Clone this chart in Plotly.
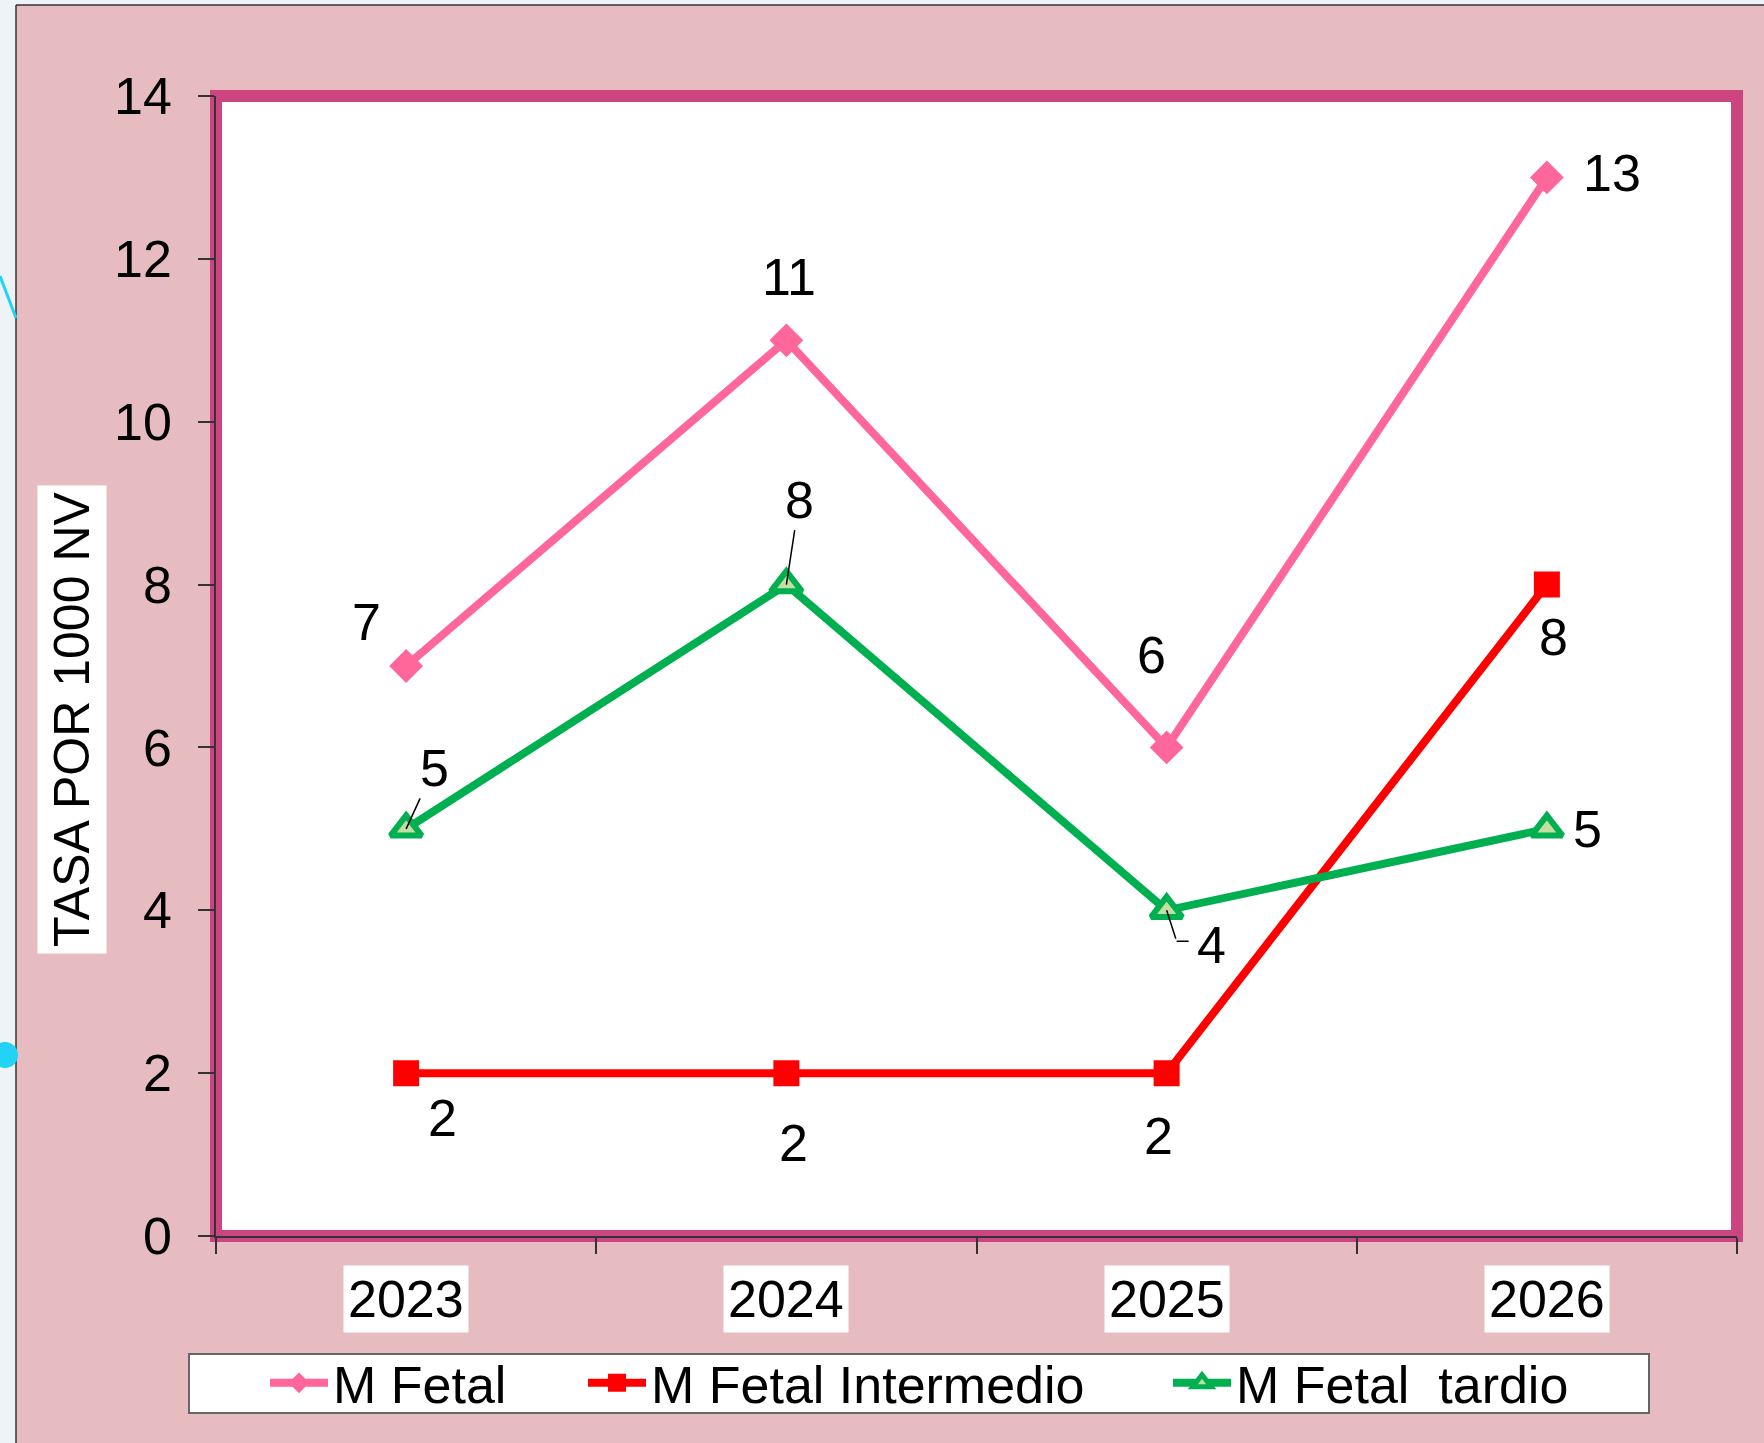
import plotly.graph_objects as go

# Data
years = ["2023", "2024", "2025", "2026"]
m_fetal = [7, 11, 6, 13]
m_fetal_intermedio = [2, 2, 2, 8]
m_fetal_tardio = [5, 8, 4, 5]
y_ticks = [0, 2, 4, 6, 8, 10, 12, 14]

series_names = ["M Fetal", "M Fetal Intermedio", "M Fetal\u00a0 tardio"]

# one slot per year on a linear x axis; ticks sit on the slot boundaries
pos = list(range(len(years)))
boundaries = [p - 0.5 for p in pos] + [pos[-1] + 0.5]

FONT = "Arial, Liberation Sans, sans-serif"
PINK_BG = "#e7bcc1"
FRAME = "#cc4580"

W, H = 1764, 1443
ML, MR, MT, MB = 216, 27, 96, 207
PW, PH = W - ML - MR, H - MT - MB


def px_x(px):
    return (px - ML) / PW


def px_y(py):
    return (H - MB - py) / PH


fig = go.Figure()

fig.add_trace(go.Scatter(
    x=pos, y=m_fetal, name=series_names[0], mode="lines+markers",
    line=dict(color="#ff6699", width=8),
    marker=dict(symbol="diamond", size=26, color="#ff6699"),
    legend="legend",
))
fig.add_trace(go.Scatter(
    x=pos, y=m_fetal_intermedio, name=series_names[1], mode="lines+markers",
    line=dict(color="#ff0000", width=8),
    marker=dict(symbol="square", size=24, color="#ff0000",
                line=dict(color="#ff0000", width=2)),
    legend="legend2",
))
fig.add_trace(go.Scatter(
    x=pos, y=m_fetal_tardio, name=series_names[2], mode="lines+markers",
    line=dict(color="#00b050", width=8),
    marker=dict(symbol="triangle-up", size=27, color="#c3dea0",
                line=dict(color="#00b050", width=6)),
    legend="legend3",
))

# Value labels: (x, y, xshift, yshift)
label_font = dict(family=FONT, size=52, color="black")
plain_labels = []
plain_labels += list(zip(pos, m_fetal, [-40, 3, -15, 65], [44, 63, 92, 4]))
plain_labels += list(zip(pos, m_fetal_intermedio, [36, 7, -8, 7], [-45, -70, -63, -52]))
plain_labels.append((pos[2], m_fetal_tardio[2], 45, -35))
plain_labels.append((pos[3], m_fetal_tardio[3], 41, 0))

annotations = []
for x, y, dx, dy in plain_labels:
    annotations.append(dict(x=x, y=y, xref="x", yref="y", text=str(y),
                            showarrow=False, xshift=dx, yshift=dy,
                            xanchor="center", yanchor="middle",
                            font=label_font))

# Labels with straight leader lines
for x, y, ax, ay in [(pos[0], m_fetal_tardio[0], 28, -61),
                     (pos[1], m_fetal_tardio[1], 13, -85)]:
    annotations.append(dict(x=x, y=y, xref="x", yref="y", text=str(y),
                            showarrow=True, arrowhead=0, arrowwidth=1.5,
                            arrowcolor="black", ax=ax, ay=ay, standoff=0,
                            font=label_font))

# Elbow leader for the 2025 tardio label (two short arrow segments)
annotations.append(dict(x=pos[2], y=m_fetal_tardio[2], xref="x", yref="y",
                        text=" ", showarrow=True, arrowhead=0, arrowwidth=1.5,
                        arrowcolor="black", ax=10, ay=31, standoff=0,
                        font=dict(size=2)))
annotations.append(dict(x=pos[2], y=m_fetal_tardio[2], xref="x", yref="y",
                        text=" ", showarrow=True, arrowhead=0, arrowwidth=1.5,
                        arrowcolor="black", ax=14, ay=0, standoff=0,
                        xshift=10, yshift=-31, font=dict(size=2)))

# Category labels on white boxes
for p, yr in zip(pos, years):
    annotations.append(dict(x=p, y=px_y(1299), xref="x", yref="paper",
                            text=yr, showarrow=False, bgcolor="white",
                            xanchor="center", yanchor="middle", borderpad=4,
                            font=dict(family=FONT, size=52, color="black")))

# Y axis title on a white box
annotations.append(dict(x=px_x(72), y=px_y(720), xref="paper", yref="paper",
                        text="TASA POR 1000 NV", textangle=-90, showarrow=False,
                        xanchor="center", yanchor="middle",
                        bgcolor="white", borderpad=6,
                        font=dict(family=FONT, size=50, color="black")))

shapes = [
    # light slide area outside the chart panel
    dict(type="rect", xref="paper", yref="paper",
         x0=px_x(-5), x1=px_x(16), y0=px_y(H + 5), y1=px_y(-5),
         fillcolor="#eef3f8", line=dict(width=0), layer="below"),
    dict(type="rect", xref="paper", yref="paper",
         x0=px_x(-5), x1=px_x(W + 5), y0=px_y(5), y1=px_y(-5),
         fillcolor="#eef3f8", line=dict(width=0), layer="below"),
    dict(type="line", xref="paper", yref="paper",
         x0=px_x(16), x1=px_x(16), y0=px_y(5), y1=px_y(H + 5),
         line=dict(color="#333333", width=1.5)),
    dict(type="line", xref="paper", yref="paper",
         x0=px_x(16), x1=px_x(W + 5), y0=px_y(5), y1=px_y(5),
         line=dict(color="#333333", width=1.5)),
    dict(type="line", xref="paper", yref="paper",
         x0=px_x(0), x1=px_x(16), y0=px_y(276), y1=px_y(318),
         line=dict(color="#22d3f5", width=3)),
    dict(type="circle", xref="paper", yref="paper",
         x0=px_x(-8), x1=px_x(18), y0=px_y(1042), y1=px_y(1068),
         fillcolor="#22d3f5", line=dict(width=0)),
    # plot frame
    dict(type="rect", xref="paper", yref="paper", x0=0, x1=1, y0=0, y1=1,
         line=dict(color=FRAME, width=12), layer="below"),
    # legend box
    dict(type="rect", xref="paper", yref="paper",
         x0=px_x(189), x1=px_x(1649), y0=px_y(1354), y1=px_y(1413),
         fillcolor="white", line=dict(color="#666666", width=2), layer="below"),
]

legend_common = dict(orientation="h", yanchor="middle", xanchor="left",
                     y=px_y(1383), bgcolor="rgba(0,0,0,0)", borderwidth=0,
                     itemwidth=58, font=dict(family=FONT, size=52, color="black"))

fig.update_layout(
    width=W, height=H,
    margin=dict(l=ML, r=MR, t=MT, b=MB),
    paper_bgcolor=PINK_BG,
    plot_bgcolor="white",
    font=dict(family=FONT, color="black"),
    showlegend=True,
    legend=dict(x=px_x(265), **legend_common),
    legend2=dict(x=px_x(583), **legend_common),
    legend3=dict(x=px_x(1168), **legend_common),
    annotations=annotations,
    shapes=shapes,
    xaxis=dict(range=[boundaries[0], boundaries[-1]], showgrid=False, zeroline=False,
               showline=True, linecolor="#333333", linewidth=1.5,
               tickmode="array", tickvals=boundaries,
               ticks="outside", ticklen=16,
               tickcolor="#333333", tickwidth=1.5, showticklabels=False),
    yaxis=dict(range=[0, 14], tickvals=y_ticks, showgrid=False, zeroline=False,
               showline=True, linecolor="#333333", linewidth=1.5,
               ticks="outside", ticklen=16, tickcolor="#333333", tickwidth=1.5,
               ticklabelstandoff=16,
               tickfont=dict(family=FONT, size=52, color="black")),
)

fig.write_html("out.html")
